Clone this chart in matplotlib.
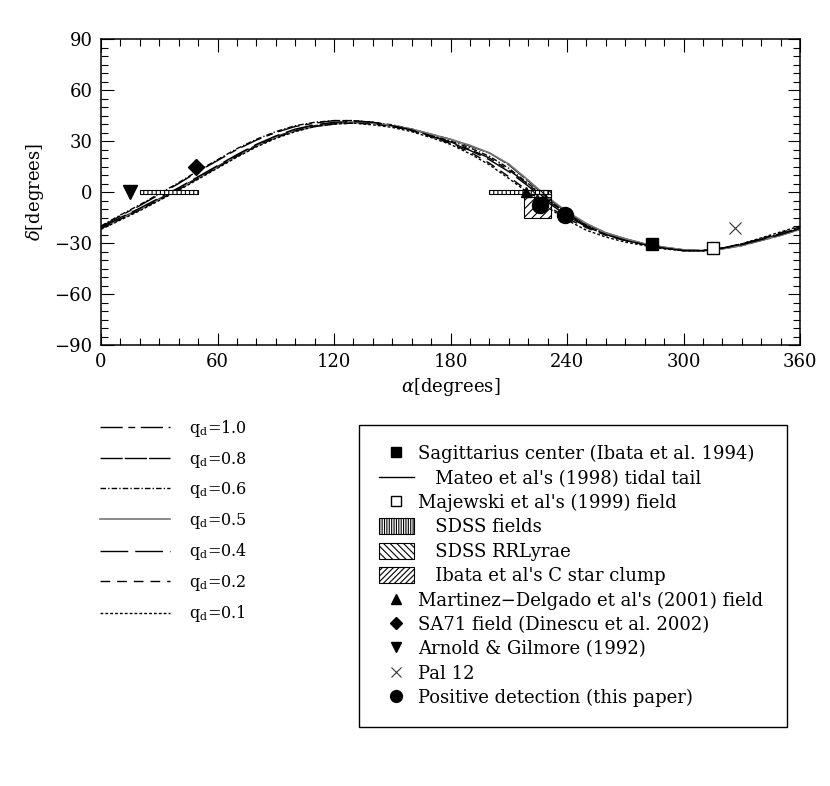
import matplotlib
matplotlib.use("Agg")
import matplotlib.pyplot as plt
from matplotlib.lines import Line2D
from matplotlib.patches import Rectangle, Patch

plt.rcParams['font.family'] = ['DejaVu Serif']
plt.rcParams['mathtext.fontset'] = 'dejavuserif'
plt.rcParams['hatch.linewidth'] = 0.8

# ---------------- data ----------------
alpha = [0, 10, 20, 30, 40, 50, 60, 70, 80, 90, 100, 110, 120, 130, 140, 150, 160, 170, 180,
         190, 200, 210, 220, 230, 240, 250, 260, 270, 280, 290, 300, 310, 320, 330, 340, 350, 360]

q_labels = ["1.0", "0.8", "0.6", "0.5", "0.4", "0.2", "0.1"]

dec_q10 = [-20.5, -14, -8, -1.5, 5, 12, 18.5, 25, 30.5, 35, 38.5, 40.5, 42, 42, 41, 39, 36.5, 33, 29.5,
           25, 20, 13, 4.5, -5, -13, -20, -25, -28.5, -31, -33, -34.5, -34.5, -33, -31, -28, -25, -21.5]
dec_q08 = [-21, -15.5, -10, -4, 2, 8.5, 15, 21.5, 27.5, 32.5, 36.5, 39, 40.5, 41, 40.5, 39, 37, 34, 31,
           27, 23, 16, 6.5, -3.5, -12, -19, -24, -27.5, -30.5, -32.5, -34, -34.5, -33.5, -31.5, -28.5, -25.5, -22]
dec_q06 = [-20, -13.5, -7.5, -1, 5.5, 12.5, 19, 25.5, 31, 35.5, 39, 41, 42, 42, 41, 39.5, 37, 33.5, 30,
           26, 21, 14, 5, -4.5, -12.5, -19.5, -24.5, -28, -31, -33, -34.5, -34.5, -33, -30.5, -27.5, -24.5, -21]
dec_q05 = [-21.5, -16, -10.5, -4.5, 1.5, 8, 14.5, 21, 27, 32, 36, 38.5, 40, 41, 40.5, 39, 37, 34, 31,
           27.5, 23, 16.5, 7, -3, -11.5, -18.5, -24, -27.5, -30.5, -32.5, -34, -34.5, -33.5, -31.5, -28.5, -25.5, -22]
dec_q04 = [-21, -15, -9.5, -3.5, 2.5, 9, 15.5, 22, 28, 33, 37, 39.5, 41, 41.5, 41, 39, 36.5, 33, 29,
           24.5, 19, 12, 3.5, -6, -14, -20.5, -25, -28.5, -31, -33, -34.5, -34.5, -33, -31, -28, -25, -21.5]
dec_q02 = [-21.5, -16, -10.5, -4.5, 1.5, 8, 14.5, 21, 27, 32, 36, 38.5, 40, 40.5, 40, 38.5, 36, 32.5, 28.5,
           23.5, 17, 9, 0.5, -8, -15.5, -21, -25.5, -28.5, -31, -33, -34.5, -34.5, -33, -30.5, -27.5, -24, -20.5]
dec_q01 = [-22, -16.5, -11, -5, 1, 7.5, 14, 20.5, 26.5, 31.5, 35.5, 38.5, 40, 40.5, 39.5, 38, 35.5, 32, 28,
           22.5, 16, 8, -0.5, -9, -16.5, -22.5, -26.5, -29.5, -31.5, -33.5, -34.5, -34.5, -33, -30.5, -27, -23.5, -20]

# point objects (alpha, delta)
sgr_center = (283.8, -30.5)
majewski = (315.0, -33.0)
martinez = (219.0, 0.0)
sa71 = (49.0, 15.0)
arnold = (15.0, 0.0)
pal12 = (326.5, -21.0)
detect_alpha = [226.0, 239.0]
detect_delta = [-7.5, -13.5]

# regions (alpha0, alpha1, delta0, delta1)
sdss_fields = [(20.0, 50.0, -1.25, 1.25), (200.0, 230.0, -1.25, 1.25)]
sdss_rrlyrae = (218.0, 232.0, -3.0, 1.25)
ibata_clump = (218.0, 232.0, -15.0, -1.0)

# ---------------- figure ----------------
W, H = 830, 786
fig = plt.figure(figsize=(W / 100, H / 100), dpi=100)
ax = fig.add_axes([101 / W, 1 - 345 / H, 699 / W, 306 / H])

styles = [
    dict(color='k', lw=1.0, dashes=(16, 4, 5, 4)),
    dict(color='k', lw=1.0, dashes=(16, 1.5)),
    dict(color='k', lw=1.0, dashes=(4, 1.5, 1, 1.5)),
    dict(color='#777777', lw=1.2, ls='-'),
    dict(color='k', lw=1.0, dashes=(20, 5)),
    dict(color='k', lw=1.0, dashes=(7, 5)),
    dict(color='k', lw=1.0, dashes=(2, 1.5)),
]
curves = [dec_q10, dec_q08, dec_q06, dec_q05, dec_q04, dec_q02, dec_q01]
curve_handles = []
for dec, st, lab in zip(curves, styles, q_labels):
    ln, = ax.plot(alpha, dec, label=r'q$_\mathrm{d}$=' + lab, zorder=2, **st)
    curve_handles.append(ln)

for a0, a1, d0, d1 in sdss_fields:
    ax.add_patch(Rectangle((a0, d0), a1 - a0, d1 - d0, facecolor='white', edgecolor='k',
                           hatch='||||', lw=0.8, zorder=3))
a0, a1, d0, d1 = ibata_clump
ax.add_patch(Rectangle((a0, d0), a1 - a0, d1 - d0, facecolor='none', edgecolor='k',
                       hatch='////', lw=0.8, zorder=3))
a0, a1, d0, d1 = sdss_rrlyrae
ax.add_patch(Rectangle((a0, d0), a1 - a0, d1 - d0, facecolor='none', edgecolor='k',
                       hatch='\\\\\\\\', lw=0.8, zorder=3))

ax.plot(*sgr_center, marker='s', color='k', ms=8.5, ls='none', zorder=5)
ax.plot(*majewski, marker='s', mfc='white', mec='k', mew=1.0, ms=8.5, ls='none', zorder=5)
ax.plot(*martinez, marker='^', color='k', ms=7, ls='none', zorder=5)
ax.plot(*sa71, marker='D', color='k', ms=8.5, ls='none', zorder=5)
ax.plot(*arnold, marker='v', color='k', ms=10.5, ls='none', zorder=5)
ax.plot(*pal12, marker='x', color='#333333', mew=0.8, ms=8, ls='none', zorder=5)
ax.plot(detect_alpha, detect_delta, marker='o', color='k', ms=11.5, ls='none', zorder=6)

ax.set_xlim(0, 360)
ax.set_ylim(-90, 90)
ax.set_xticks(range(0, 361, 60))
ax.set_xticks(range(0, 361, 10), minor=True)
ax.set_yticks(range(-90, 91, 30))
ax.set_yticks(range(-90, 91, 5), minor=True)
ax.tick_params(which='both', direction='in', top=True, right=True, labelsize=13)
ax.tick_params(which='major', length=9, width=0.8, pad=6)
ax.tick_params(which='minor', length=5, width=0.8)
for s in ax.spines.values():
    s.set_linewidth(1.1)

ax.set_xlabel(r'$\alpha$[degrees]', fontsize=13, labelpad=3)
ax.set_ylabel(r'$\delta$[degrees]', fontsize=13, labelpad=6)

# left legend: model curves
fig.legend(handles=curve_handles, loc='upper left', bbox_to_anchor=(100 / W, 1 - 418 / H),
           frameon=False, fontsize=11.5, handlelength=4.4, handletextpad=1.2,
           labelspacing=0.66, borderpad=0, borderaxespad=0)

# right legend: observations
proxies = [
    Line2D([], [], marker='s', color='k', ls='none', ms=7),
    Line2D([], [], color='k', lw=1.0),
    Line2D([], [], marker='s', mfc='white', mec='k', ls='none', ms=7),
    Patch(facecolor='white', edgecolor='k', hatch='|||||||', lw=0.8),
    Patch(facecolor='white', edgecolor='k', hatch='\\\\\\\\\\', lw=0.8),
    Patch(facecolor='white', edgecolor='k', hatch='//////', lw=0.8),
    Line2D([], [], marker='^', color='k', ls='none', ms=7.5),
    Line2D([], [], marker='D', color='k', ls='none', ms=6.5),
    Line2D([], [], marker='v', color='k', ls='none', ms=7.5),
    Line2D([], [], marker='x', color='#333333', ls='none', ms=7, mew=0.8),
    Line2D([], [], marker='o', color='k', ls='none', ms=8.5),
]
obs_labels = [
    "Sagittarius center (Ibata et al. 1994)",
    "   Mateo et al's (1998) tidal tail",
    "Majewski et al's (1999) field",
    "   SDSS fields",
    "   SDSS RRLyrae",
    "   Ibata et al's C star clump",
    "Martinez\u2212Delgado et al's (2001) field",
    "SA71 field (Dinescu et al. 2002)",
    "Arnold & Gilmore (1992)",
    "Pal 12",
    "Positive detection (this paper)",
]
leg = fig.legend(handles=proxies, labels=obs_labels, loc='upper left',
                 bbox_to_anchor=(359 / W, 1 - 433 / H, 428 / W, 0.01), mode='expand',
                 fontsize=13, handlelength=1.95, handleheight=1.0, handletextpad=0.2,
                 labelspacing=0.34, borderpad=1.1, borderaxespad=0, fancybox=False,
                 edgecolor='k', framealpha=1)
leg.get_frame().set_linewidth(1.0)

fig.savefig('out.png', dpi=100)
